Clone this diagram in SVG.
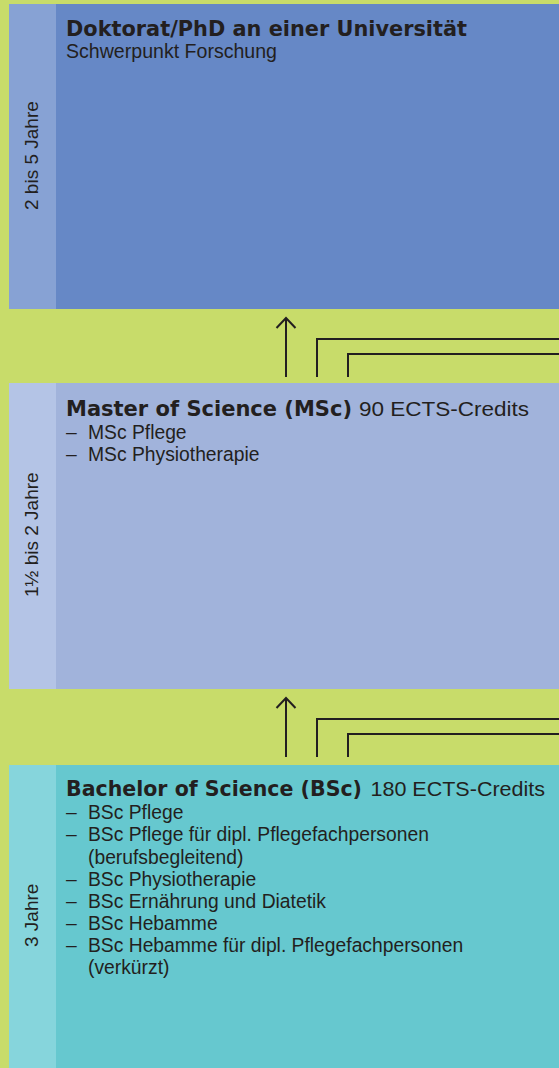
<svg xmlns="http://www.w3.org/2000/svg" width="559" height="1068" viewBox="0 0 559 1068">
  <style>
    .t { font-family: "Liberation Sans", Arial, sans-serif; font-size: 19.3px; fill: #231f20; }
    .h { font-family: "DejaVu Sans", "Liberation Sans", sans-serif; font-weight: bold; font-size: 21px; fill: #231f20; }
    .hr { font-family: "Liberation Sans", Arial, sans-serif; font-size: 21px; fill: #231f20; }
    .side { font-family: "Liberation Sans", Arial, sans-serif; font-size: 19px; fill: #231f20; }
    .ln { fill: none; stroke: #231f20; stroke-width: 2; }
  </style>
  <defs>
    <!-- open chevron arrowhead, tip at the end of the line -->
    <marker id="head" viewBox="-12 -11 14 22" refX="0" refY="0" markerWidth="14" markerHeight="22" markerUnits="userSpaceOnUse" orient="auto">
      <polyline points="-10,-9.5 0,0 -10,9.5" fill="none" stroke="#231f20" stroke-width="2"/>
    </marker>
  </defs>

  <!-- green background -->
  <rect x="0" y="0" width="559" height="1068" fill="#c8dc6a"/>

  <!-- doctorate level -->
  <g id="doktorat">
    <rect x="9" y="4" width="550" height="305" fill="#6688c6"/>
    <rect x="9" y="4" width="47" height="305" fill="#87a2d4"/>
    <text class="side" transform="translate(37.5 210) rotate(-90)">2 bis 5 Jahre</text>
    <text class="h" x="66" y="36" textLength="401" lengthAdjust="spacingAndGlyphs">Doktorat/PhD an einer Universität</text>
    <text class="t" x="66" y="58.3" textLength="211" lengthAdjust="spacingAndGlyphs">Schwerpunkt Forschung</text>
  </g>

  <!-- master level -->
  <g id="master">
    <rect x="9" y="383" width="550" height="306" fill="#a1b3db"/>
    <rect x="9" y="383" width="47" height="306" fill="#b4c4e6"/>
    <text class="side" transform="translate(37.5 597) rotate(-90)">1½ bis 2 Jahre</text>
    <text class="h" x="66" y="415.7" textLength="286" lengthAdjust="spacingAndGlyphs">Master of Science (MSc)</text>
    <text class="hr" x="359" y="415.7" textLength="170" lengthAdjust="spacingAndGlyphs">90 ECTS-Credits</text>
    <text class="t" x="66" y="439.3">–</text>
    <text class="t" x="88" y="439.3">MSc Pflege</text>
    <text class="t" x="66" y="461.4">–</text>
    <text class="t" x="88" y="461.4">MSc Physiotherapie</text>
  </g>

  <!-- bachelor level -->
  <g id="bachelor">
    <rect x="9" y="765" width="550" height="303" fill="#66c8cf"/>
    <rect x="9" y="765" width="47" height="303" fill="#86d5dc"/>
    <text class="side" transform="translate(37.5 947) rotate(-90)">3 Jahre</text>
    <text class="h" x="66" y="795.7" textLength="296" lengthAdjust="spacingAndGlyphs">Bachelor of Science (BSc)</text>
    <text class="hr" x="370.5" y="795.7" textLength="174.5" lengthAdjust="spacingAndGlyphs">180 ECTS-Credits</text>
    <text class="t" x="66" y="819.3">–</text>
    <text class="t" x="88" y="819.3">BSc Pflege</text>
    <text class="t" x="66" y="841.4">–</text>
    <text class="t" x="88" y="841.4">BSc Pflege für dipl. Pflegefachpersonen</text>
    <text class="t" x="88" y="863.5">(berufsbegleitend)</text>
    <text class="t" x="66" y="885.6">–</text>
    <text class="t" x="88" y="885.6">BSc Physiotherapie</text>
    <text class="t" x="66" y="907.7">–</text>
    <text class="t" x="88" y="907.7">BSc Ernährung und Diatetik</text>
    <text class="t" x="66" y="929.8">–</text>
    <text class="t" x="88" y="929.8">BSc Hebamme</text>
    <text class="t" x="66" y="951.9">–</text>
    <text class="t" x="88" y="951.9">BSc Hebamme für dipl. Pflegefachpersonen</text>
    <text class="t" x="88" y="974">(verkürzt)</text>
  </g>

  <!-- connectors between levels -->
  <g id="connectors">
    <line class="ln" x1="286" y1="377" x2="286" y2="318" marker-end="url(#head)"/>
    <path class="ln" d="M317,377 V339 H559"/>
    <path class="ln" d="M348,377 V354 H559"/>
    <line class="ln" x1="286" y1="757" x2="286" y2="698" marker-end="url(#head)"/>
    <path class="ln" d="M317,757 V719 H559"/>
    <path class="ln" d="M348,757 V734 H559"/>
  </g>
</svg>
